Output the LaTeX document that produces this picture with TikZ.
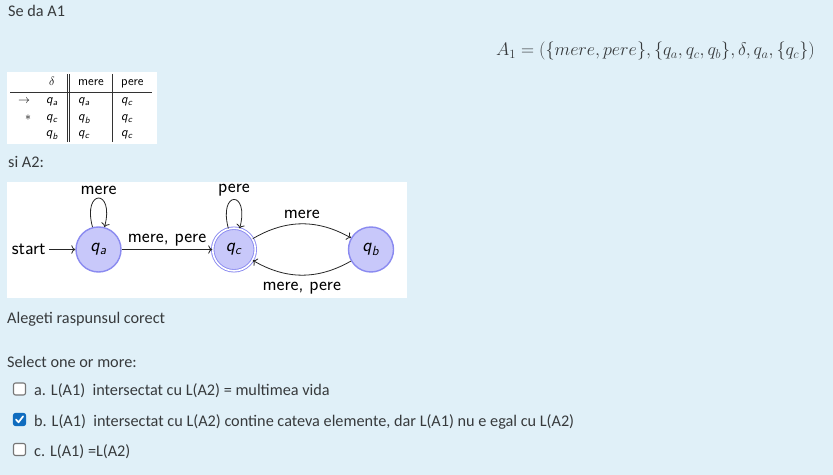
\documentclass[tikz,border=0pt]{standalone}
\usepackage[no-math]{fontspec}
\setmainfont{Carlito}
\usepackage{tikz}
\usetikzlibrary{arrows.meta,automata,positioning}
\definecolor{page}{HTML}{E0F0F8}
\definecolor{ink}{HTML}{373A3C}
\definecolor{statefill}{HTML}{C8C8FA}
\definecolor{stateline}{HTML}{8A8AF0}
\definecolor{tick}{HTML}{0F6CBF}
\definecolor{boxline}{HTML}{767676}
\newcommand{\qs}[1]{\textit{q}\textsubscript{\textit{#1}}}
\tikzset{
  pagetext/.style={font=\fontsize{16.3}{19}\selectfont, text=ink, inner sep=0pt, anchor=base west},
  formula/.style={font=\fontsize{17.28}{21}\selectfont, text=ink, inner sep=0pt, anchor=base east,
    scale=1.053, transform shape},
  cell/.style={font=\sffamily\fontsize{13}{15}\selectfont, inner sep=0pt, anchor=base west},
  cellmid/.style={cell, anchor=base},
  sheet/.style={fill=white},
  rule/.style={draw=black!80, line width=0.6bp},
  qstate/.style={state, draw=stateline, fill=statefill, line width=1.4bp,
    minimum size=45bp, inner sep=0pt, font=\sffamily\fontsize{19}{22}\selectfont},
  final/.style={qstate, minimum size=42.6bp, line width=0.9bp, double=white, double distance=1.6bp},
  trans/.style={-{To[scale=1.2]}, draw=black!85, line width=0.8bp},
  edgelabel/.style={font=\sffamily\fontsize{19}{22}\selectfont, inner sep=3bp},
  checkbox/.style={draw=boxline, line width=1.1bp, rounded corners=2bp, fill=white,
    minimum size=12bp, inner sep=0pt},
  checked/.style={checkbox, draw=tick, fill=tick},
  every loop/.style={min distance=40bp},
  every initial by arrow/.style={trans, font=\sffamily\fontsize{19}{22}\selectfont}
}

\begin{document}
\begin{tikzpicture}[x=1bp,y=1bp]
  \fill[page] (0,0) rectangle (833,-475);
  \useasboundingbox (0,0) rectangle (833,-475);

  \node[pagetext] (head) at (8,-17) {Se da A1};
  \node[formula] (aone) at (815,-56) {$A_1=(\{mere,pere\},\{q_a,q_c,q_b\},\delta,q_a,\{q_c\})$};

  % transition table of A1
  \fill[sheet] (7,-72) rectangle (157,-144);
  \draw[rule] (10,-92) -- (152,-92);
  \draw[rule] (67,-74) -- (67,-142) (69.5,-74) -- (69.5,-142);
  \draw[rule] (112,-74) -- (112,-142);
  \node[cellmid] (delta) at (52,-86) {$\delta$};
  \node[cell] (colm) at (78,-86) {mere};
  \node[cell] (colp) at (121,-86) {pere};
  \foreach \mk/\mx/\st/\ma/\pe/\y [count=\i] in
      {$\rightarrow$/24/a/a/c/104, $*$/28/c/b/c/121, {}/28/b/c/c/137} {
    \node[cellmid] (mark\i) at (\mx,-\y) {\mk};
    \node[cellmid] (st\i) at (52,-\y) {\qs{\st}};
    \node[cell] (ma\i) at (78,-\y) {\qs{\ma}};
    \node[cell] (pe\i) at (121,-\y) {\qs{\pe}};
  }

  \node[pagetext] (sia) at (8,-168) {si A2:};

  % automaton A2
  \fill[sheet] (7,-182) rectangle (407,-298);
  \node[qstate, initial, initial text=start, initial distance=26bp] (qa) at (98.5,-249.5) {\qs{a}};
  \node[final] (qc) at (234,-249.5) {\qs{c}};
  \node[qstate] (qb) at (371,-249.5) {\qs{b}};
  \draw[trans] (qa) edge[loop above] node[edgelabel, above] {mere} (qa)
               (qa) edge node[edgelabel, above] {mere, pere} (qc)
               (qc) edge[loop above] node[edgelabel, above] {pere} (qc)
               (qc) edge[bend left] node[edgelabel, above=2bp] {mere} (qb)
               (qb) edge[bend left] node[edgelabel, below=4bp] {mere, pere} (qc);

  \node[pagetext] (ask) at (7,-324) {Alegeti raspunsul corect};
  \node[pagetext] (sel) at (7,-368) {Select one or more:};

  \node[checkbox] (cba) at (19.5,-389) {};
  \node[checked] (cbb) at (19.5,-419.5) {};
  \node[checkbox] (cbc) at (19.5,-449.5) {};
  \draw[white, line width=1.7bp, line cap=round, line join=round]
    ([shift={(-3.5,0)}]cbb.center) -- ([shift={(-1,-2.8)}]cbb.center) -- ([shift={(3.6,3.2)}]cbb.center);
  \node[pagetext] (opta) at (34,-395) {a. L(A1)\ \ intersectat cu L(A2) = multimea vida};
  \node[pagetext] (optb) at (34,-426) {b. L(A1)\ \ intersectat cu L(A2) contine cateva elemente, dar L(A1) nu e egal cu L(A2)};
  \node[pagetext] (optc) at (34,-456) {c. L(A1) =L(A2)};
\end{tikzpicture}
\end{document}
